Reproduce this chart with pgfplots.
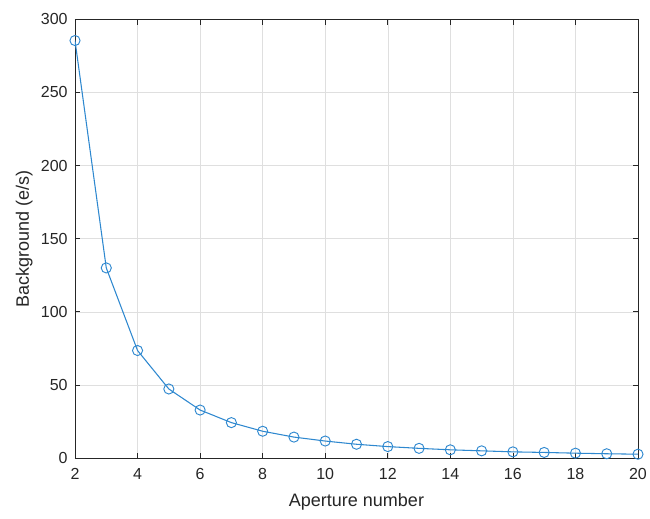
\documentclass[border=0pt]{standalone}
\usepackage{pgfplots}
\pgfplotsset{compat=1.18}
\usepackage{fontspec}
\setmainfont{Liberation Sans}
\definecolor{mblue}{HTML}{2E88CF}
\definecolor{axgray}{HTML}{262626}

\begin{document}
\begin{tikzpicture}
\useasboundingbox (-56.25pt,-45pt) rectangle (431.25pt,343.5pt);
\begin{axis}[
  at={(0,0)}, anchor=south west,
  scale only axis,
  width=422.25pt, height=329pt,
  xmin=2, xmax=20, ymin=0, ymax=300,
  xtick={2,4,...,20},
  ytick={0,50,...,300},
  grid=major,
  grid style={gray!25, line width=0.4pt},
  axis line style={axgray, line width=0.5pt},
  tick style={axgray, line width=0.5pt},
  tick align=inside,
  major tick length=4pt,
  ticklabel style={font=\fontsize{12}{14}\selectfont, text=axgray},
  xticklabel style={yshift=-4pt},
  yticklabel style={xshift=-2pt},
  /pgf/number format/assume math mode=true,
  xlabel={Aperture number},
  ylabel={Background (e/s)},
  label style={font=\fontsize{13.5}{16}\selectfont, text=axgray},
  xlabel style={at={([yshift=-33pt]axis description cs:0.5,0)}, anchor=center},
  ylabel style={at={([xshift=-38pt]axis description cs:0,0.5)}, anchor=center},
]
\addplot[mblue, line width=0.8pt, mark=o, mark size=3.8pt, mark options={line width=0.7pt}] coordinates {
  (2, 285.5) (3, 130) (4, 73.5) (5, 47.2) (6, 32.8) (7, 24.2) (8, 18.3)
  (9, 14.3) (10, 11.6) (11, 9.4) (12, 7.8) (13, 6.6) (14, 5.6)
  (15, 4.9) (16, 4.2) (17, 3.8) (18, 3.3) (19, 2.9) (20, 2.6)
};
\end{axis}
\end{tikzpicture}
\end{document}
